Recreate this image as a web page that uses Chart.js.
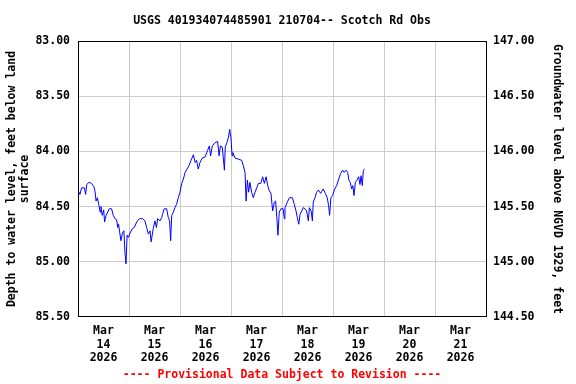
<!DOCTYPE html>
<html>
<head>
<meta charset="utf-8">
<script src="https://cdn.jsdelivr.net/npm/chart.js@4.4.1/dist/chart.umd.min.js"></script>
<style>
body { margin: 0; background: #fff; }
</style>
</head>
<body>
<canvas id="myChart" width="576" height="384"></canvas>
<script>
// hours since Mar 14 2026 00:00
const hours = [
  0.2, 0.9, 1.7, 3.0, 3.6, 4.1, 5.2, 6.4, 7.5, 8.0, 8.5, 9.1, 9.9, 10.4, 10.8, 11.4, 12.1, 12.5, 13.2, 14.0,
  14.7, 15.8, 16.6, 17.4, 18.2, 18.7, 19.1, 19.6, 20.2, 20.9, 21.6, 22.1, 22.6, 23.1, 23.7, 24.5, 25.6, 26.5, 27.6, 28.9,
  30.4, 31.5, 32.3, 33.1, 33.9, 34.4, 35.0, 35.4, 36.2, 36.9, 37.5, 38.6, 39.4, 39.8, 40.6, 41.7, 42.5, 43.1, 43.6, 44.1,
  44.9, 45.6, 46.4, 47.2, 48.0, 48.8, 49.6, 50.4, 51.3, 52.2, 53.2, 54.3, 55.1, 55.8, 56.6, 57.4, 58.5, 59.8, 61.0, 61.8,
  62.4, 63.2, 64.5, 65.7, 66.4, 67.0, 67.9, 68.9, 69.3, 70.1, 70.8, 71.4, 72.0, 72.5, 72.9, 73.9, 75.4, 77.0, 77.8, 78.6,
  79.1, 79.7, 80.3, 80.9, 81.7, 82.5, 83.3, 84.1, 84.9, 86.0, 86.9, 87.7, 88.5, 89.3, 89.9, 90.8, 91.6, 92.4, 93.0, 93.6,
  94.1, 94.7, 95.5, 96.5, 97.1, 97.4, 98.5, 99.5, 100.9, 101.8, 102.6, 103.2, 103.9, 104.5, 105.3, 106.0, 106.8, 107.6, 108.4, 108.9,
  109.7, 110.3, 110.7, 111.5, 112.3, 113.1, 114.2, 115.4, 116.4, 117.3, 117.9, 118.4, 119.0, 119.8, 120.6, 121.7, 122.7, 123.6, 124.5, 125.3,
  126.1, 126.9, 127.5, 128.1, 128.8, 129.3, 129.9, 130.5, 131.3, 132.1, 132.7, 133.2, 133.8, 134.3, 134.9
];
// depth to water level, feet below land surface
const depth = [
  84.36, 84.39, 84.33, 84.33, 84.39, 84.30, 84.28, 84.29, 84.32, 84.36, 84.45, 84.42, 84.49, 84.55, 84.50, 84.58, 84.53, 84.64, 84.58, 84.55,
  84.52, 84.52, 84.58, 84.61, 84.62, 84.69, 84.66, 84.73, 84.81, 84.74, 84.72, 84.92, 85.02, 84.76, 84.78, 84.74, 84.70, 84.69, 84.64, 84.61,
  84.61, 84.63, 84.69, 84.75, 84.72, 84.82, 84.75, 84.70, 84.63, 84.69, 84.61, 84.63, 84.60, 84.57, 84.52, 84.52, 84.60, 84.63, 84.81, 84.58,
  84.55, 84.51, 84.48, 84.42, 84.37, 84.29, 84.25, 84.19, 84.16, 84.13, 84.08, 84.03, 84.10, 84.08, 84.16, 84.10, 84.06, 84.05, 83.99, 83.95,
  84.04, 83.95, 83.92, 83.91, 84.04, 83.95, 83.96, 84.17, 83.96, 83.92, 83.87, 83.80, 83.88, 84.04, 84.01, 84.06, 84.07, 84.08, 84.13, 84.19,
  84.45, 84.26, 84.37, 84.28, 84.37, 84.42, 84.37, 84.33, 84.29, 84.29, 84.23, 84.29, 84.23, 84.31, 84.35, 84.38, 84.54, 84.46, 84.45, 84.61,
  84.76, 84.55, 84.52, 84.52, 84.61, 84.51, 84.46, 84.42, 84.42, 84.48, 84.54, 84.60, 84.66, 84.57, 84.54, 84.51, 84.52, 84.54, 84.63, 84.51,
  84.54, 84.63, 84.46, 84.42, 84.37, 84.35, 84.38, 84.34, 84.38, 84.42, 84.49, 84.58, 84.42, 84.40, 84.35, 84.31, 84.25, 84.20, 84.17, 84.19,
  84.17, 84.19, 84.26, 84.28, 84.34, 84.31, 84.40, 84.28, 84.26, 84.23, 84.30, 84.22, 84.31, 84.17, 84.16
];

const dayMonth = 'Mar';
const dayNames = ['14', '15', '16', '17', '18', '19', '20', '21'];
const dayYear = '2026';
const dayCentres = [12, 36, 60, 84, 108, 132, 156, 180];

const font = { family: 'DejaVu Sans Mono', size: 11.5, weight: 'bold', lineHeight: 1.15 };
const gridColor = '#cccccc';

const points = hours.map((h, i) => ({ x: h, y: depth[i] }));

const ctx = document.getElementById('myChart').getContext('2d');

var chartData = {
    type: 'line',
    data: {
        datasets: [{
            label: 'Depth',
            data: points,
            borderColor: '#0000ff',
            borderWidth: 1,
            pointRadius: 0,
            tension: 0,
            fill: false,
            xAxisID: 'x',
            yAxisID: 'y'
        }]
    },
    options: {
        responsive: false,
        animation: false,
        layout: { padding: 0 },
        plugins: {
            legend: { display: false },
            tooltip: { enabled: false },
            title: {
                display: true,
                text: 'USGS 401934074485901 210704-- Scotch Rd Obs',
                color: '#000',
                font: font,
                fullSize: false,
                padding: { top: 14, bottom: 14 }
            },
            subtitle: {
                display: true,
                position: 'bottom',
                text: '---- Provisional Data Subject to Revision ----',
                color: '#ff0000',
                font: font,
                fullSize: false,
                padding: { top: 3, bottom: 2 }
            }
        },
        scales: {
            x: {
                type: 'linear',
                position: 'bottom',
                min: 0,
                max: 192,
                ticks: { stepSize: 24, display: false },
                grid: { color: gridColor, drawTicks: false },
                border: { color: '#000', width: 1 },
                afterFit: (scale) => { scale.height = 0; }
            },
            xDays: {
                type: 'linear',
                position: 'bottom',
                min: 0,
                max: 192,
                grid: { display: false, drawTicks: false },
                border: { display: false },
                afterBuildTicks: (scale) => { scale.ticks = dayCentres.map(v => ({ value: v })); },
                ticks: {
                    autoSkip: false,
                    maxRotation: 0,
                    padding: 8,
                    color: '#000',
                    font: font,
                    callback: (value, index) => [dayMonth, dayNames[index], dayYear]
                },
                afterFit: (scale) => { scale.height = 49; }
            },
            xTop: {
                type: 'linear',
                position: 'top',
                min: 0,
                max: 192,
                ticks: { display: false },
                grid: { display: false, drawTicks: false },
                border: { color: '#000', width: 1 },
                afterFit: (scale) => { scale.height = 0; }
            },
            y: {
                type: 'linear',
                position: 'left',
                reverse: true,
                min: 83,
                max: 85.5,
                ticks: {
                    stepSize: 0.5,
                    padding: 8,
                    color: '#000',
                    font: font,
                    callback: (v) => v.toFixed(2)
                },
                grid: { color: gridColor, drawTicks: false },
                border: { color: '#000', width: 1 },
                title: {
                    display: true,
                    text: ['Depth to water level, feet below land', 'surface'],
                    color: '#000',
                    font: font,
                    padding: { top: 5, bottom: 0 }
                },
                afterFit: (scale) => { scale.width = 78; }
            },
            y1: {
                type: 'linear',
                position: 'right',
                min: 144.5,
                max: 147,
                ticks: {
                    stepSize: 0.5,
                    padding: 7,
                    color: '#000',
                    font: font,
                    callback: (v) => v.toFixed(2)
                },
                grid: { drawOnChartArea: false, drawTicks: false },
                border: { color: '#000', width: 1 },
                title: {
                    display: true,
                    text: 'Groundwater level above NGVD 1929, feet',
                    color: '#000',
                    font: font,
                    padding: { top: 12, bottom: 0 }
                },
                afterFit: (scale) => { scale.width = 90; }
            }
        }
    }
};

var myChart = new Chart(ctx, chartData);
</script>
</body>
</html>
